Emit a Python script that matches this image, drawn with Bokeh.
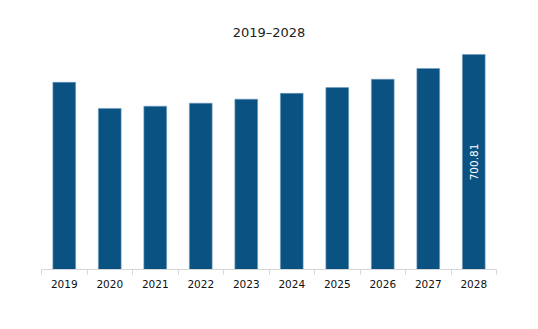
import numpy as np
from bokeh.plotting import figure
from bokeh.models import ColumnDataSource, Range1d, FixedTicker, LinearAxis, Title
from bokeh.core.properties import value
from bokeh.embed import file_html
from bokeh.resources import INLINE

years = ["2019", "2020", "2021", "2022", "2023", "2024", "2025", "2026", "2027", "2028"]
values = [610.0, 525.0, 532.0, 542.0, 555.0, 574.0, 593.0, 620.0, 655.0, 700.81]
title_text = "2019\u20132028"
labelled = ["2028"]

BAR = "#0a5282"
FONT = "DejaVu Sans"

xpos = np.arange(len(years)) + 0.5
src = ColumnDataSource(dict(x=xpos, top=values, year=years))

p = figure(width=538, height=329, output_backend="svg", toolbar_location=None,
           x_range=Range1d(0, len(years)), y_range=Range1d(0, 730),
           min_border_left=41, min_border_right=42, min_border_top=45, min_border_bottom=60,
           outline_line_color=None, background_fill_color="white", border_fill_color="white")

p.add_layout(Title(text=title_text, align="center", text_font=FONT, text_font_size="13px",
                   text_font_style="normal", text_color="#222222", standoff=12), "above")

p.vbar(x="x", top="top", width=0.5, source=src, fill_color=BAR,
       line_color="#6f9cc0", line_width=0.6)

lab_idx = [years.index(y) for y in labelled]
lab_src = ColumnDataSource(dict(x=[xpos[i] for i in lab_idx],
                                y=[values[i] / 2 for i in lab_idx],
                                t=[f"{values[i]:.2f}" for i in lab_idx]))
p.text(x="x", y="y", text="t", source=lab_src, angle=np.pi / 2, text_color="white",
       text_font=value(FONT), text_font_size="10.5px", text_align="center",
       text_baseline="middle")

p.yaxis.visible = False
p.grid.visible = False

ax = p.xaxis[0]
ax.ticker = FixedTicker(ticks=list(range(len(years) + 1)))
ax.major_label_overrides = {i: "" for i in range(len(years) + 1)}
ax.major_label_text_color = None
ax.major_label_text_font_size = "1px"
ax.major_label_standoff = 0
ax.major_tick_in = 0
ax.major_tick_out = 5
ax.minor_tick_line_color = None
ax.axis_line_color = "#d6d6d6"
ax.major_tick_line_color = "#d6d6d6"

ax2 = LinearAxis(ticker=FixedTicker(ticks=list(xpos)),
                 major_label_overrides={float(xv): y for xv, y in zip(xpos, years)})
ax2.axis_line_color = None
ax2.major_tick_line_color = None
ax2.minor_tick_line_color = None
ax2.major_tick_in = 0
ax2.major_tick_out = 0
ax2.major_label_standoff = 5
ax2.major_label_text_font = FONT
ax2.major_label_text_font_size = "10.5px"
ax2.major_label_text_color = "#111111"
p.add_layout(ax2, "below")

open("out.html", "w").write(file_html(p, INLINE))
